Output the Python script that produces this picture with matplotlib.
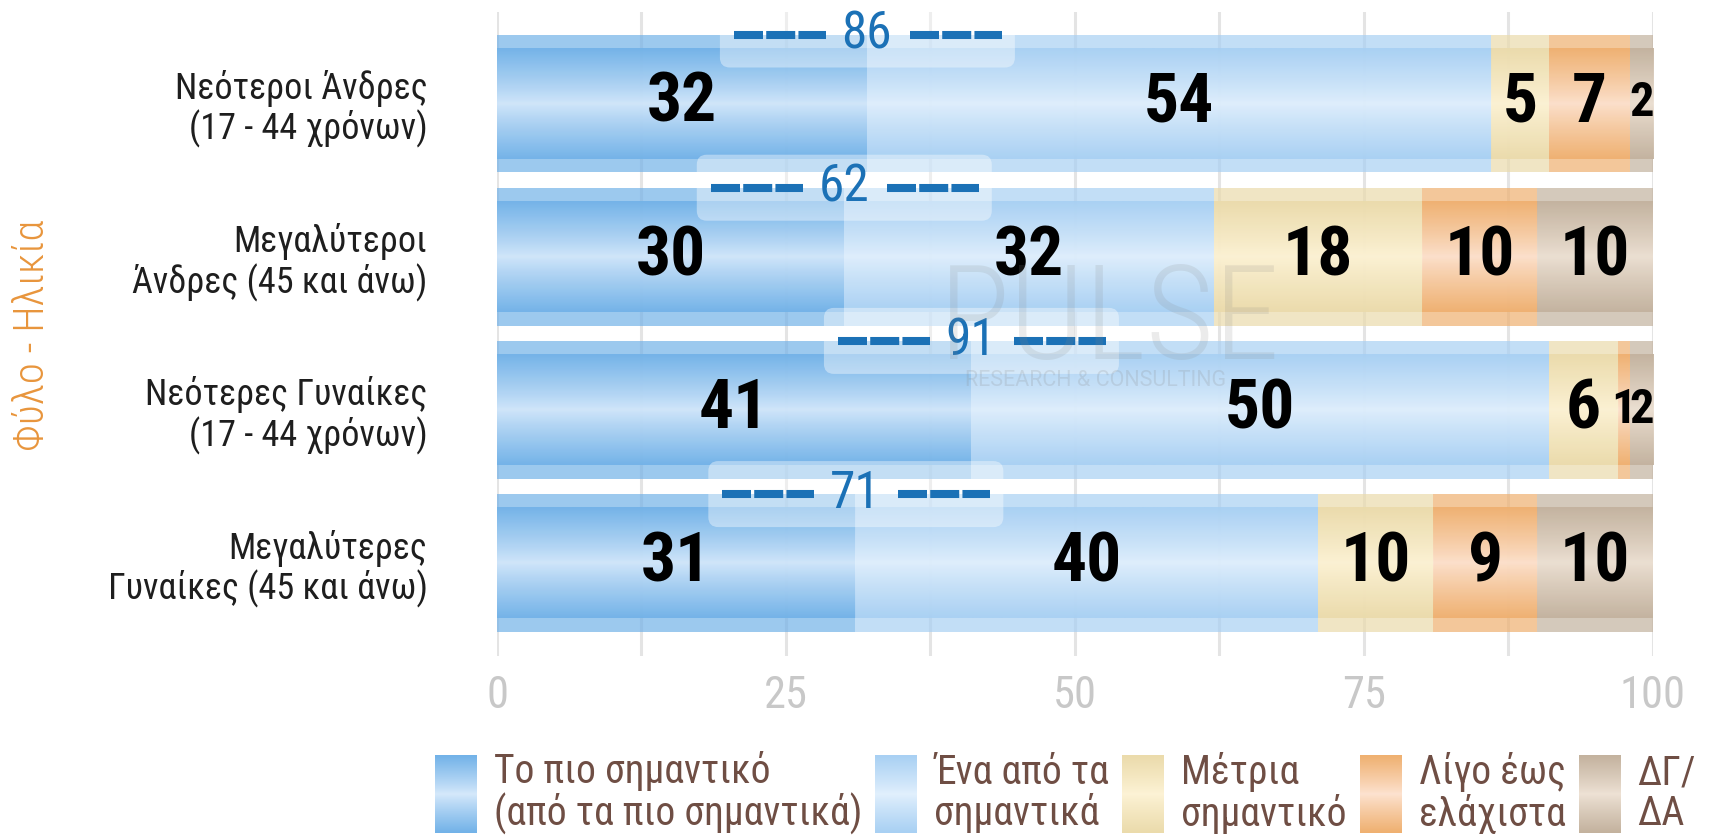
import numpy as np
import matplotlib
matplotlib.use("Agg")
import matplotlib.pyplot as plt
import matplotlib.transforms as mtransforms
from matplotlib import font_manager
from matplotlib.colors import to_rgb
from matplotlib.lines import Line2D
from matplotlib.patches import FancyBboxPatch

# δεδομένα
groups = ["Νεότεροι Άνδρες\n(17 - 44 χρόνων)",
          "Μεγαλύτεροι\nΆνδρες (45 και άνω)",
          "Νεότερες Γυναίκες\n(17 - 44 χρόνων)",
          "Μεγαλύτερες\nΓυναίκες (45 και άνω)"]
most_important = [32, 30, 41, 31]
one_of_important = [54, 32, 50, 40]
moderately = [5, 18, 6, 10]
little = [7, 10, 1, 9]
dk_na = [2, 10, 2, 10]
series_names = ["Το πιο σημαντικό\n(από τα πιο σημαντικά)", "Ένα από τα\nσημαντικά",
                "Μέτρια\nσημαντικό", "Λίγο έως\nελάχιστα", "ΔΓ/\nΔΑ"]
xticks = [0, 25, 50, 75, 100]
ylabel = "Φύλο - Ηλικία"

series = [most_important, one_of_important, moderately, little, dk_na]
edge_cols = ["#72b2e8", "#a8d0f3", "#ebdbab", "#efb070", "#c3b29e"]
mid_cols = ["#d6e9fb", "#e2f0fd", "#fdf3d6", "#fde3d1", "#eee2d5"]

available = {f.name for f in font_manager.fontManager.ttflist}
COND = next((f for f in ["Roboto Condensed", "Liberation Sans Narrow", "Roboto"]
             if f in available), "DejaVu Sans")
plt.rcParams['font.family'] = [COND, 'DejaVu Sans']


def gradient(edge, mid, n=80):
    t = np.abs(np.linspace(-1, 1, n)) ** 0.9
    e, m = np.array(to_rgb(edge)), np.array(to_rgb(mid))
    img = m[None, :] + (e - m)[None, :] * t[:, None]
    return img[:, None, :]


fig = plt.figure(figsize=(17.15, 8.39), dpi=100)
ax = fig.add_axes([0.2898, 0.2181, 0.674, 0.7676])

ax.set_xticks(xticks)
ax.set_xticks(np.arange(12.5, 100, 25), minor=True)
ax.grid(True, which='both', axis='x', color='#e4e4e4', lw=2.2)
ax.set_axisbelow(True)
for s in ax.spines.values():
    s.set_visible(False)

for i in range(len(groups)):
    left = 0
    for k, vals in enumerate(series):
        w = vals[i]
        ax.barh(i, w, left=left, height=0.9, color=edge_cols[k], alpha=0.7,
                lw=0, zorder=2)
        ax.imshow(gradient(edge_cols[k], mid_cols[k]), aspect='auto',
                  extent=[left, left + w, i + 0.36, i - 0.36], alpha=0.92,
                  interpolation='bilinear', zorder=3)
        fs = 50 if w > 2 else 35
        ax.text(left + w / 2, i, str(w), ha='center', va='center', fontsize=fs,
                fontweight='bold', color='black', zorder=6)
        left += w

    # σύνολο σημαντικών
    total = most_important[i] + one_of_important[i]
    trans = fig.dpi_scale_trans + mtransforms.ScaledTranslation(
        most_important[i], i - 0.45, ax.transData)
    box = FancyBboxPatch((-1.47, -0.33), 2.95, 0.66,
                         boxstyle="round,pad=0,rounding_size=0.1",
                         transform=trans, fc='white', alpha=0.4, lw=0,
                         zorder=5, clip_on=False)
    ax.add_artist(box)
    for x0, x1 in [(-1.33, -0.41), (0.43, 1.35)]:
        ln = Line2D([x0, x1], [0, 0], transform=trans, color='#1b71b6', lw=5.8,
                    dashes=(3.6, 0.4), dash_capstyle='butt', zorder=6,
                    clip_on=False)
        ax.add_artist(ln)
    ax.text(0, 0, str(total), transform=trans, ha='center', va='center',
            fontsize=37, color='#1b71b6', zorder=7, clip_on=False)

ax.set_xlim(0, 100)
ax.set_ylim(3.607, -0.597)
ax.set_yticks(range(len(groups)))
ax.set_yticklabels(groups, fontsize=26, color='#1e1e1e', linespacing=1.1,
                   multialignment='right')
ax.tick_params(axis='y', length=0, pad=50)
ax.tick_params(axis='x', which='both', length=0, pad=14, labelsize=32,
               labelcolor='#c8c8c8')

fig.text(0.0192, 0.601, ylabel, rotation=90, ha='center', va='center',
         fontsize=31, color='#e8953c', fontweight='light')

# υδατογράφημα
fig.text(0.647, 0.615, "PULSE", ha='center', va='center', fontsize=95,
         color='#888888', alpha=0.16, fontweight='light')
fig.text(0.639, 0.547, "RESEARCH & CONSULTING", ha='center', va='center',
         fontsize=15.5, color='#888888', alpha=0.2, family='Roboto')

# υπόμνημα
lax = fig.add_axes([0, 0, 1, 0.12])
lax.set_xlim(0, 1715)
lax.set_ylim(0, 0.12 * 839)
lax.axis('off')
renderer = fig.canvas.get_renderer()
x = 435
for k, name in enumerate(series_names):
    lax.imshow(gradient(edge_cols[k], mid_cols[k]), aspect='auto',
               extent=[x, x + 42, 6, 84], interpolation='bilinear')
    t = lax.text(x + 59, 46, name, ha='left', va='center', fontsize=28.5,
                 color='#6f4e44', linespacing=1.05)
    wpx = t.get_window_extent(renderer).width
    x = x + 59 + wpx + 13
lax.set_xlim(0, 1715)
lax.set_ylim(0, 0.12 * 839)

fig.savefig("out.png", dpi=100)
